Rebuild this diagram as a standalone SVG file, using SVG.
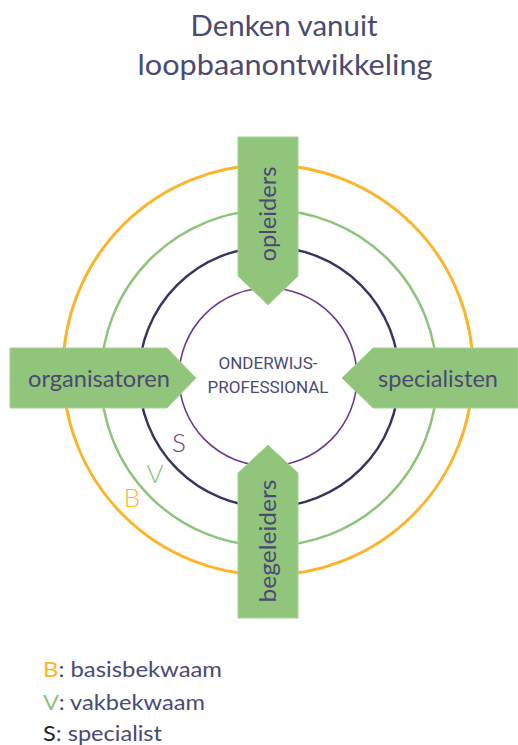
<svg xmlns="http://www.w3.org/2000/svg" width="518" height="745" viewBox="0 0 518 745">
<style>
  .t { font-family: Lato, "Open Sans", sans-serif; fill: #4a4a72; font-weight: 400; }
  .title { font-size: 28px; text-anchor: middle; }
  .lbl { font-size: 23px; text-anchor: middle; }
  .ctr { font-family: Roboto, "Liberation Sans", sans-serif; font-size: 17px; fill: #4a4a72; text-anchor: middle; }
  .ringlbl { font-weight: 300; font-size: 26px; text-anchor: middle; }
  .arrow { fill: #92c57c; stroke: #a6d193; stroke-width: 1; }
  .ring { fill: none; }
  .leg { font-size: 21px; }
</style>
<rect width="518" height="745" fill="#ffffff"/>
<g id="title">
  <text class="t title" x="284" y="36" textLength="187" lengthAdjust="spacingAndGlyphs">Denken vanuit</text>
  <text class="t title" x="285" y="75" textLength="295" lengthAdjust="spacingAndGlyphs">loopbaanontwikkeling</text>
</g>
<g id="rings">
  <circle id="ring-B" class="ring" cx="268" cy="370" r="205" stroke="#fbb52b" stroke-width="3"/>
  <circle id="ring-V" class="ring" cx="269" cy="378" r="168" stroke="#8cc57a" stroke-width="2.5"/>
  <circle id="ring-S" class="ring" cx="269" cy="377" r="130" stroke="#35355f" stroke-width="2.5"/>
  <circle id="ring-core" class="ring" cx="268" cy="377" r="89" stroke="#6a3a8c" stroke-width="1.6"/>
</g>
<g id="center">
  <text class="ctr" x="268" y="369">ONDERWIJS-</text>
  <text class="ctr" x="268" y="393">PROFESSIONAL</text>
</g>
<g id="ring-labels">
  <text class="t ringlbl" x="179" y="452" style="fill:#6a3a8c">S</text>
  <text class="t ringlbl" x="155" y="483" style="fill:#8cc57a">V</text>
  <text class="t ringlbl" x="132" y="507" style="fill:#fbb52b">B</text>
</g>
<g id="arrow-opleiders">
  <polygon class="arrow" points="238,137 298,137 298,276 268,305 238,276"/>
  <text class="t lbl" transform="translate(276,214) rotate(-90)" textLength="95" lengthAdjust="spacingAndGlyphs">opleiders</text>
</g>
<g id="arrow-begeleiders">
  <polygon class="arrow" points="268,445 298,473 298,618 238,618 238,473"/>
  <text class="t lbl" transform="translate(276,541) rotate(-90)" textLength="123" lengthAdjust="spacingAndGlyphs">begeleiders</text>
</g>
<g id="arrow-organisatoren">
  <polygon class="arrow" points="10,348 167,348 196,378 167,408 10,408"/>
  <text class="t lbl" x="99" y="387" textLength="142" lengthAdjust="spacingAndGlyphs">organisatoren</text>
</g>
<g id="arrow-specialisten">
  <polygon class="arrow" points="518,348 373,348 342,378 373,408 518,408"/>
  <text class="t lbl" x="438" y="387" textLength="120" lengthAdjust="spacingAndGlyphs">specialisten</text>
</g>
<g id="legend" class="t leg">
  <text x="43" y="677" textLength="179" lengthAdjust="spacingAndGlyphs"><tspan style="fill:#fbb52b">B</tspan>: basisbekwaam</text>
  <text x="43" y="710" textLength="162" lengthAdjust="spacingAndGlyphs"><tspan style="fill:#8cc57a">V</tspan>: vakbekwaam</text>
  <text x="43" y="741" textLength="119" lengthAdjust="spacingAndGlyphs"><tspan style="fill:#222222">S</tspan>: specialist</text>
</g>
</svg>
